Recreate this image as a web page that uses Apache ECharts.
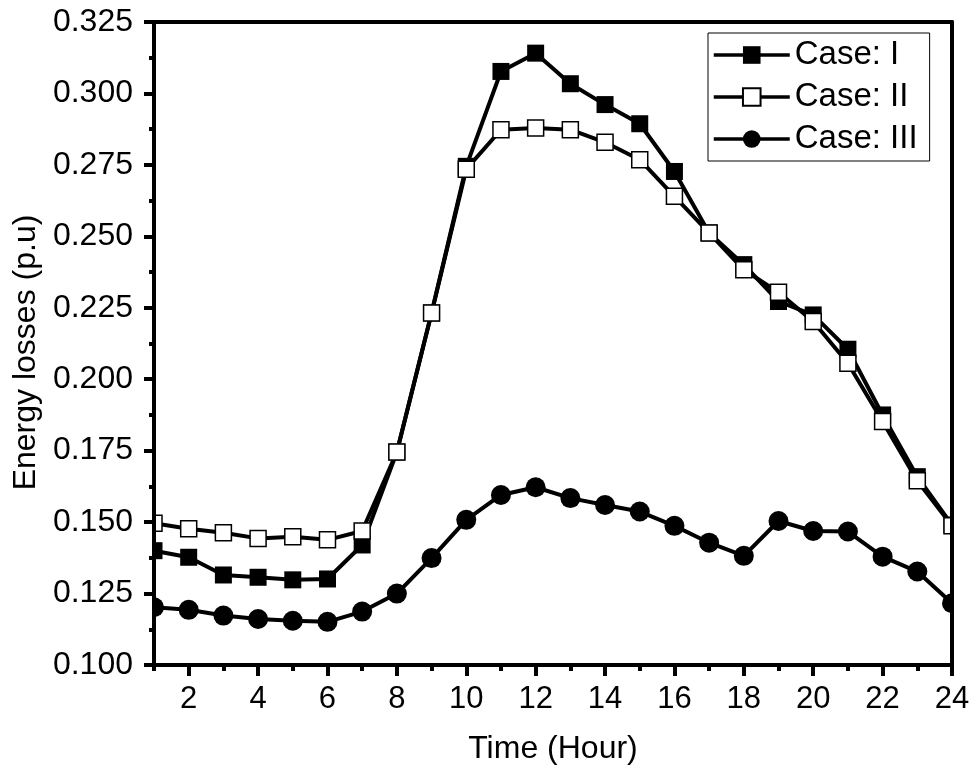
<!DOCTYPE html>
<html>
<head>
<meta charset="utf-8">
<script src="https://cdn.jsdelivr.net/npm/echarts@6/dist/echarts.min.js"></script>
<style>html,body{margin:0;padding:0;background:#fff}#c{width:976px;height:778px}</style>
</head>
<body>
<div id="c"></div>
<script>
const hours = ['1','2','3','4','5','6','7','8','9','10','11','12','13','14','15','16','17','18','19','20','21','22','23','24'];
const caseI = [0.1400, 0.1377, 0.1315, 0.1307, 0.1298, 0.1301, 0.1420, 0.1745, 0.2232, 0.2745, 0.3077, 0.3141, 0.3034, 0.2961, 0.2894, 0.2727, 0.2512, 0.2401, 0.2272, 0.2225, 0.2105, 0.1875, 0.1659, 0.1490];
const caseII = [0.1496, 0.1477, 0.1463, 0.1443, 0.1449, 0.1438, 0.1469, 0.1745, 0.2232, 0.2735, 0.2873, 0.2879, 0.2873, 0.2829, 0.2768, 0.2640, 0.2512, 0.2383, 0.2304, 0.2202, 0.2056, 0.1852, 0.1645, 0.1487];
const caseIII = [0.1202, 0.1193, 0.1173, 0.1161, 0.1155, 0.1151, 0.1187, 0.1250, 0.1374, 0.1508, 0.1595, 0.1622, 0.1584, 0.1560, 0.1537, 0.1487, 0.1428, 0.1382, 0.1504, 0.1469, 0.1467, 0.1379, 0.1327, 0.1216];
const seriesNames = ['Case: I', 'Case: II', 'Case: III'];
const xTitle = 'Time (Hour)';
const yTitle = 'Energy losses (p.u)';

const FONT = 'Arial, "Liberation Sans", sans-serif';
const chart = echarts.init(document.getElementById('c'), null, {renderer: 'canvas'});
const G = {left: 154, right: 24, top: 22, bottom: 113};
const evenIdx = (i) => i % 2 === 1;
const axW = 4;
const lnW = 4;

chart.setOption({
  animation: false,
  backgroundColor: '#fff',
  grid: {left: G.left, right: G.right, top: G.top, bottom: G.bottom, containLabel: false},
  graphic: [
    {type: 'rect', z: 5, shape: {x: 0, y: 0, width: G.left - 2, height: 778}, style: {fill: '#fff'}},
    {type: 'rect', z: 5, shape: {x: 976 - G.right + 2, y: 0, width: G.right, height: 778}, style: {fill: '#fff'}}
  ],
  legend: {
    left: 708, top: 33, orient: 'vertical',
    padding: [5, 12, 5, 4],
    borderColor: '#000', borderWidth: 1,
    backgroundColor: '#fff',
    itemWidth: 76, itemHeight: 22, itemGap: 8,
    lineStyle: {width: 3.5, color: '#000'},
    textStyle: {fontFamily: FONT, fontSize: 33, color: '#000', lineHeight: 34},
    data: seriesNames
  },
  xAxis: [
    {
      type: 'category', data: hours, boundaryGap: false, position: 'bottom', z: 10,
      name: xTitle, nameLocation: 'middle', nameGap: 68,
      nameTextStyle: {fontFamily: FONT, fontSize: 32, color: '#000'},
      axisLine: {lineStyle: {color: '#000', width: axW}},
      axisTick: {length: 11, interval: evenIdx, lineStyle: {color: '#000', width: axW}},
      axisLabel: {interval: evenIdx, margin: 19, fontFamily: FONT, fontSize: 31, color: '#000'},
      splitLine: {show: false}
    },
    {
      type: 'category', data: hours, boundaryGap: false, position: 'bottom', z: 10,
      axisLine: {show: false},
      axisTick: {length: 6, interval: 0, lineStyle: {color: '#000', width: axW}},
      axisLabel: {show: false},
      splitLine: {show: false}
    },
    {
      type: 'category', data: hours, boundaryGap: false, position: 'top', z: 10,
      axisLine: {lineStyle: {color: '#000', width: axW}},
      axisTick: {show: false}, axisLabel: {show: false}, splitLine: {show: false}
    }
  ],
  yAxis: [
    {
      type: 'value', min: 0.1, max: 0.325, interval: 0.025, position: 'left', z: 10,
      name: yTitle, nameLocation: 'middle', nameGap: 112,
      nameTextStyle: {fontFamily: FONT, fontSize: 32, color: '#000', padding: [0, 18, 0, 0]},
      axisLine: {show: true, lineStyle: {color: '#000', width: axW}},
      axisTick: {show: true, length: 10, lineStyle: {color: '#000', width: axW}},
      minorTick: {show: true, splitNumber: 2, length: 5, lineStyle: {color: '#000', width: axW}},
      axisLabel: {margin: 21, fontFamily: FONT, fontSize: 32, color: '#000', formatter: (v) => v.toFixed(3)},
      splitLine: {show: false}
    },
    {
      type: 'value', min: 0.1, max: 0.325, interval: 0.025, position: 'right', z: 10,
      axisLine: {show: true, lineStyle: {color: '#000', width: axW}},
      axisTick: {show: false}, axisLabel: {show: false}, splitLine: {show: false}
    }
  ],
  series: [
    {
      name: seriesNames[0], type: 'line', data: caseI, xAxisIndex: 0, yAxisIndex: 0,
      symbol: 'rect', symbolSize: 17,
      lineStyle: {color: '#000', width: lnW},
      itemStyle: {color: '#000', borderColor: '#000', borderWidth: 0}
    },
    {
      name: seriesNames[1], type: 'line', data: caseII, xAxisIndex: 0, yAxisIndex: 0,
      symbol: 'rect', symbolSize: 16,
      lineStyle: {color: '#000', width: lnW},
      itemStyle: {color: '#fff', borderColor: '#000', borderWidth: 1.5}
    },
    {
      name: seriesNames[2], type: 'line', data: caseIII, xAxisIndex: 0, yAxisIndex: 0,
      symbol: 'circle', symbolSize: 20,
      lineStyle: {color: '#000', width: lnW},
      itemStyle: {color: '#000', borderColor: '#000', borderWidth: 0}
    }
  ]
});
</script>
</body>
</html>
